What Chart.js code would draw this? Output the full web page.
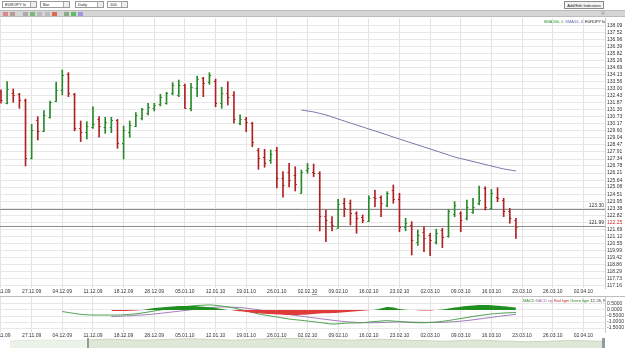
<!DOCTYPE html>
<html>
<head>
<meta charset="utf-8">
<script src="https://cdn.jsdelivr.net/npm/chart.js@4.4.1/dist/chart.umd.min.js"></script>
<style>
  body { margin:0; width:625px; height:348px; background:#fff; overflow:hidden; position:relative; font-family:"Liberation Sans", Arial, sans-serif; }
  .sel { position:absolute; top:1px; height:7px; border:1px solid #9a9a9a; background:#fff; font-size:4px; line-height:6px; padding-left:2px; box-sizing:border-box; color:#222; }
  .sel i { position:absolute; right:0; top:0; width:5px; height:5px; border-left:1px solid #aaa; background:#eee; }
  .btn { position:absolute; left:564px; top:1px; width:40px; height:8px; border:1px solid #8a8a8a; background:#f4f4f4; font-size:4px; line-height:7px; text-align:center; box-sizing:border-box; color:#222; }
  #bar2 { position:absolute; left:0; top:10px; width:625px; height:7px; background:#d6d6d6; border-top:1px solid #bbb; border-bottom:1px solid #bbb; box-sizing:border-box; }
  .ic { position:absolute; top:1px; width:5px; height:4px; }
  .lg { position:absolute; right:20px; font-size:4px; white-space:nowrap; letter-spacing:-0.1px; }
  canvas { position:absolute; left:0; }
</style>
</head>
<body>
<div class="sel" style="left:2px;width:35px">EUR/JPY fx<i></i></div>
<div class="sel" style="left:40px;width:30px">Bar<i></i></div>
<div class="sel" style="left:75px;width:29px">Daily<i></i></div>
<div class="sel" style="left:107px;width:21px">100<i></i></div>
<div class="btn">Add/Edit Indicators</div>
<div id="bar2">
  <span class="ic" style="left:3px;background:#d88;"></span>
  <span class="ic" style="left:10px;background:#b99;"></span>
  <span class="ic" style="left:23px;background:#aaa;"></span>
  <span class="ic" style="left:30px;background:#7b7;"></span>
  <span class="ic" style="left:37px;background:#bbb;"></span>
  <span class="ic" style="left:45px;background:#bbb;"></span>
  <span class="ic" style="left:52px;background:#d65;"></span>
  <span class="ic" style="left:64px;background:#8a8;"></span>
  <span class="ic" style="left:71px;background:#6b6;"></span>
  <span class="ic" style="left:78px;background:#99d;"></span>
</div>
<div style="position:absolute;left:601px;top:11px;width:4px;height:4px;border-radius:50%;background:#bbb;"></div>

<canvas id="main" style="top:18px" width="625" height="278"></canvas>
<div class="lg" style="top:19px">
  <span style="color:#2f8f2f">SMA 200, 0</span>&nbsp; <span style="color:#5a5fa8">SMA 61, 0</span>&nbsp; <span style="color:#222">EUR/JPY fx</span>
</div>
<div style="position:absolute;left:312px;top:294px;width:5px;height:1px;background:#999;"></div>

<div style="position:absolute;left:0;top:296px;width:625px;height:1px;background:#bdbdbd;"></div>
<canvas id="macd" style="top:297px" width="625" height="41"></canvas>
<div class="lg" style="top:298px">
  <span style="color:#2f8f2f">MACD</span> <span style="color:#9a6fb0">MACD sig</span> <span style="color:#d03030">Red hgm</span> <span style="color:#2f8f2f">Green hgm</span> <span style="color:#333">12, 26, 9</span>
</div>
<canvas id="nav" style="top:338px" width="625" height="10"></canvas>

<script>
const dates = ['20.11.09','27.11.09','04.12.09','11.12.09','18.12.09','28.12.09','05.01.10','12.01.10','19.01.10','26.01.10',
  '02.02.10','09.02.10','16.02.10','23.02.10','02.03.10','09.03.10','16.03.10','23.03.10','26.03.10','02.04.10'];

const opens = [132.74,131.88,132.66,132.55,132.09,127.40,130.48,129.62,130.70,132.01,
  132.90,134.19,132.58,129.81,129.54,129.94,130.54,129.90,129.94,130.48,
  128.61,129.54,130.00,130.62,131.02,131.42,131.75,131.83,132.63,132.50,
  133.30,131.42,133.03,133.86,133.57,133.65,131.83,132.63,132.50,130.22,
  130.56,130.22,128.07,127.53,127.26,128.07,125.81,126.30,126.05,124.60,
  126.46,126.32,126.24,122.76,122.29,121.77,123.83,123.78,122.97,122.65,
  122.38,124.31,124.31,123.64,124.85,124.10,121.89,122.03,120.69,121.49,
  121.23,120.69,121.63,121.14,122.92,122.97,122.57,123.10,123.78,124.99,
  123.37,124.31,124.04,123.18,122.43];
const highs = [132.90,133.57,132.98,132.63,132.17,130.14,130.75,131.23,132.01,133.52,
  134.51,134.29,132.63,130.40,130.35,131.55,130.75,130.70,130.70,130.54,
  130.00,130.40,131.07,131.42,131.83,131.83,132.55,132.71,133.49,133.70,
  133.38,133.44,134.02,133.92,134.29,133.78,133.12,133.57,132.76,130.89,
  130.70,130.30,128.20,128.12,128.07,128.29,126.32,126.99,126.72,126.46,
  126.99,126.94,126.32,123.24,122.70,124.10,124.18,124.04,123.10,122.84,
  124.39,124.85,124.37,124.71,125.25,124.58,122.57,122.30,121.63,121.89,
  121.35,121.69,121.77,123.29,123.91,123.10,124.04,124.18,125.17,125.11,
  124.90,125.03,124.18,123.37,122.57];
const lows = [131.83,131.77,131.91,131.42,126.78,127.34,128.87,129.54,130.62,131.96,
  132.50,132.36,129.60,128.74,128.95,129.81,129.09,129.41,129.46,128.20,
  127.34,129.09,129.94,130.48,130.89,131.21,131.61,131.75,132.50,132.36,
  131.42,131.21,132.36,132.36,133.36,131.55,131.42,131.69,130.22,130.08,
  129.54,128.33,126.51,126.68,126.99,125.01,124.28,125.09,124.77,124.58,
  126.19,125.92,121.55,120.69,121.55,121.77,122.70,122.03,121.36,122.22,
  122.30,123.50,122.70,123.50,123.78,121.49,121.57,119.62,120.38,119.88,
  119.56,120.50,120.20,121.04,122.70,121.49,122.43,122.97,123.64,123.24,
  123.29,123.91,122.70,122.17,120.96];
const closes = [132.09,132.95,132.50,132.09,127.40,129.68,129.62,130.89,131.96,132.90,
  134.10,132.63,129.81,129.54,130.00,130.14,130.00,130.35,130.48,128.61,
  129.68,130.08,130.89,131.34,131.55,131.69,132.36,132.63,133.30,133.30,
  131.47,133.16,133.76,133.44,134.10,131.83,132.63,132.36,130.54,130.54,
  130.35,128.74,127.45,127.00,127.72,125.81,125.25,125.65,125.33,126.30,
  126.62,126.19,122.76,122.43,122.03,123.72,123.37,122.97,122.57,122.43,
  124.23,124.18,123.78,124.58,124.10,121.89,122.17,120.82,121.23,120.96,
  120.82,121.36,121.04,123.18,123.64,122.43,123.50,123.45,124.04,123.45,
  124.58,124.18,123.16,122.57,121.89];

const smaStart = 49;
const sma61 = [131.29,131.21,131.13,131.01,130.89,130.73,130.56,130.40,130.24,130.08,
  129.92,129.76,129.60,129.44,129.28,129.11,128.95,128.79,128.63,128.47,
  128.31,128.15,127.99,127.83,127.67,127.50,127.38,127.26,127.14,127.02,
  126.90,126.78,126.66,126.54,126.46,126.38];

const priceTicks = [138.09,137.52,136.96,136.39,135.82,135.26,134.69,134.13,133.56,133.00,
  132.43,131.87,131.30,130.73,130.17,129.60,129.04,128.47,127.91,127.34,
  126.78,126.21,125.64,125.08,124.51,123.95,123.38,122.82,122.25,121.69,
  121.12,120.55,119.99,119.42,118.86,118.29,117.73,117.16];
const lastTick = 122.25;
const refLines = [123.30, 121.99];

const macdStart = 10;
const macdLine = [-0.13,-0.21,-0.29,-0.36,-0.40,-0.42,-0.42,-0.42,-0.42,-0.42,
  -0.40,-0.36,-0.32,-0.25,-0.17,-0.08,0.00,0.08,0.17,0.25,
  0.29,0.33,0.38,0.40,0.42,0.39,0.33,0.25,0.17,0.04,
  -0.08,-0.21,-0.33,-0.42,-0.50,-0.58,-0.67,-0.75,-0.81,-0.86,
  -0.92,-0.98,-1.04,-1.11,-1.17,-1.15,-1.11,-1.08,-1.08,-1.06,
  -1.00,-0.96,-0.92,-0.89,-0.92,-0.96,-1.00,-1.04,-1.06,-1.06,
  -1.04,-1.00,-0.94,-0.88,-0.79,-0.71,-0.63,-0.54,-0.46,-0.40,
  -0.33,-0.29,-0.25,-0.23,-0.21];
const sigStart = 18;
const sigLine = [-0.54,-0.53,-0.50,-0.48,-0.44,-0.42,-0.38,-0.33,-0.28,-0.22,
  -0.16,-0.10,-0.04,0.02,0.08,0.13,0.18,0.23,0.25,0.25,
  0.23,0.20,0.15,0.08,0.02,-0.06,-0.13,-0.22,-0.30,-0.38,
  -0.45,-0.52,-0.58,-0.65,-0.72,-0.78,-0.85,-0.91,-0.96,-1.00,
  -1.03,-1.05,-1.06,-1.06,-1.04,-1.03,-1.01,-1.00,-1.00,-1.01,
  -1.02,-1.03,-1.03,-1.03,-1.03,-1.00,-0.97,-0.93,-0.88,-0.82,
  -0.75,-0.68,-0.62,-0.55,-0.48,-0.42,-0.36];
const histLine = [-0.08,-0.08,-0.08,-0.06,-0.04,0.00,0.08,0.17,0.21,0.25,
  0.29,0.33,0.33,0.33,0.32,0.28,0.23,0.17,0.08,0.00,
  -0.04,-0.11,-0.17,-0.22,-0.27,-0.31,-0.34,-0.38,-0.39,-0.42,
  -0.42,-0.40,-0.37,-0.33,-0.30,-0.28,-0.25,-0.22,-0.18,-0.15,
  -0.11,-0.06,-0.02,0.03,0.13,0.25,0.21,0.08,0.03,0.00,
  -0.02,-0.04,-0.04,0.00,0.04,0.13,0.21,0.28,0.33,0.38,
  0.42,0.42,0.40,0.36,0.31,0.25,0.21];
const macdTicks = [0.5, 0, -0.5, -1.0, -1.5];

const navHistory = [6.2,6.8,7.1,6.9,6.6,7.3,7.9,7.5,7.1,7.3,7.8,8.2,8.0,7.5,7.1,7.6,8.2,8.6,8.3,7.9,
  7.5,7.1,7.4,7.8,7.3,6.9,6.5,6.1,6.7,7.1,6.5,6.1,5.7,5.9,6.3,6.7,6.3,5.9];

Chart.defaults.font.family = '"Liberation Sans", Arial, sans-serif';
Chart.defaults.font.size = 5;
Chart.defaults.color = '#333';
Chart.defaults.animation = false;

const UP = '#2a8a2a', DOWN = '#b02222';
const barColors = closes.map((c, i) => c >= opens[i] ? UP : DOWN);
const xMin = -0.163, xMax = 98.53;

function xScale(h) {
  return {
    type: 'linear', min: xMin, max: xMax, offset: false,
    grid: { color: '#e2e2e2', drawTicks: false, offset: false },
    border: { display: false },
    afterBuildTicks: s => { s.ticks = dates.map((d, k) => ({ value: k * 5 })); },
    afterFit: s => { s.height = h; s.paddingLeft = 0; s.paddingRight = 0; },
    ticks: { padding: 1, maxRotation: 0, autoSkip: false, callback: v => dates[Math.round(v / 5)] }
  };
}

const ohlcTicks = {
  id: 'ohlcTicks',
  afterDatasetsDraw(chart) {
    const { ctx, scales: { x, y } } = chart;
    ctx.save();
    ctx.lineWidth = 1;
    closes.forEach((c, i) => {
      const px = x.getPixelForValue(i);
      const yo = Math.round(y.getPixelForValue(opens[i])) + 0.5;
      const yc = Math.round(y.getPixelForValue(c)) + 0.5;
      ctx.strokeStyle = barColors[i];
      ctx.beginPath();
      ctx.moveTo(px - 1.6, yo); ctx.lineTo(px, yo);
      ctx.moveTo(px, yc); ctx.lineTo(px + 1.6, yc);
      ctx.stroke();
    });
    ctx.restore();
  }
};

const refLinePlugin = {
  id: 'refLines',
  beforeDatasetsDraw(chart) {
    const { ctx, chartArea: a, scales: { y } } = chart;
    ctx.save();
    ctx.strokeStyle = '#8c8c8c';
    ctx.lineWidth = 1;
    ctx.fillStyle = '#333';
    ctx.font = '5px "Liberation Sans", Arial';
    ctx.textAlign = 'right';
    ctx.textBaseline = 'bottom';
    refLines.forEach(v => {
      const py = Math.round(y.getPixelForValue(v)) + 0.5;
      ctx.beginPath(); ctx.moveTo(a.left, py); ctx.lineTo(a.right, py); ctx.stroke();
      ctx.fillText(v.toFixed(2), a.right - 1, py - 1);
    });
    ctx.restore();
  }
};

new Chart(document.getElementById('main'), {
  type: 'bar',
  data: {
    datasets: [
      {
        type: 'line',
        data: sma61.map((v, k) => ({ x: smaStart + k, y: v })),
        borderColor: '#7276aa', borderWidth: 1, pointRadius: 0, tension: 0.3
      },
      {
        type: 'bar',
        data: closes.map((c, i) => ({ x: i, y: [lows[i], highs[i]] })),
        backgroundColor: barColors, barThickness: 1, borderWidth: 0
      }
    ]
  },
  options: {
    responsive: false, maintainAspectRatio: false,
    layout: { padding: 0 },
    plugins: { legend: { display: false }, tooltip: { enabled: false } },
    scales: {
      x: xScale(8),
      y: {
        type: 'linear', position: 'right', min: 116.96, max: 138.69,
        grid: { color: '#e8e8e8', drawTicks: false },
        border: { display: true, color: '#c8c8c8' },
        afterBuildTicks: s => { s.ticks = priceTicks.map(v => ({ value: v })); },
        afterFit: s => { s.width = 20; s.paddingTop = 0; s.paddingBottom = 0; },
        ticks: {
          padding: 2, autoSkip: false,
          color: c => Math.abs(c.tick.value - lastTick) < 0.001 ? '#d02020' : '#333',
          callback: v => v.toFixed(2)
        }
      }
    }
  },
  plugins: [refLinePlugin, ohlcTicks]
});

new Chart(document.getElementById('macd'), {
  type: 'line',
  data: {
    datasets: [
      {
        data: histLine.map((v, k) => ({ x: sigStart + k, y: v })),
        borderWidth: 0, pointRadius: 0, tension: 0.3,
        fill: { target: 'origin', above: '#1f8f1f', below: '#e03a3a' }
      },
      {
        data: macdLine.map((v, k) => ({ x: macdStart + k, y: v })),
        borderColor: '#4aa04a', borderWidth: 1, pointRadius: 0, tension: 0.3, fill: false
      },
      {
        data: sigLine.map((v, k) => ({ x: sigStart + k, y: v })),
        borderColor: '#a07ab8', borderWidth: 1, pointRadius: 0, tension: 0.3, fill: false
      }
    ]
  },
  options: {
    responsive: false, maintainAspectRatio: false,
    layout: { padding: 0 },
    plugins: { legend: { display: false }, tooltip: { enabled: false } },
    scales: {
      x: xScale(6),
      y: {
        type: 'linear', position: 'right', min: -1.833, max: 1.083,
        grid: { color: '#e8e8e8', drawTicks: false },
        border: { display: true, color: '#c8c8c8' },
        afterBuildTicks: s => { s.ticks = macdTicks.map(v => ({ value: v })); },
        afterFit: s => { s.width = 20; s.paddingTop = 0; s.paddingBottom = 0; },
        ticks: { padding: 2, autoSkip: false, callback: v => v.toFixed(4) }
      }
    }
  }
});

new Chart(document.getElementById('nav'), {
  type: 'line',
  data: {
    labels: navHistory.map((v, i) => i),
    datasets: [{
      data: navHistory, borderColor: '#c9d6bd', borderWidth: 1, pointRadius: 0,
      fill: 'origin', backgroundColor: '#dfe7d6', tension: 0.3
    }]
  },
  options: {
    responsive: false, maintainAspectRatio: false,
    layout: { padding: { left: 10, right: 20, top: 0, bottom: 0 } },
    plugins: { legend: { display: false }, tooltip: { enabled: false } },
    scales: { x: { display: false }, y: { display: false, min: 0, max: 9 } }
  },
  plugins: [{
    id: 'navWindow',
    afterDatasetsDraw(chart) {
      const ctx = chart.ctx;
      ctx.save();
      ctx.fillStyle = 'rgba(255,255,255,0.45)';
      ctx.fillRect(10, 0, 78, 10);
      ctx.fillStyle = '#999';
      ctx.fillRect(87, 0, 2, 10);
      ctx.fillRect(602, 0, 3, 10);
      ctx.restore();
    }
  }]
});
</script>
</body>
</html>
